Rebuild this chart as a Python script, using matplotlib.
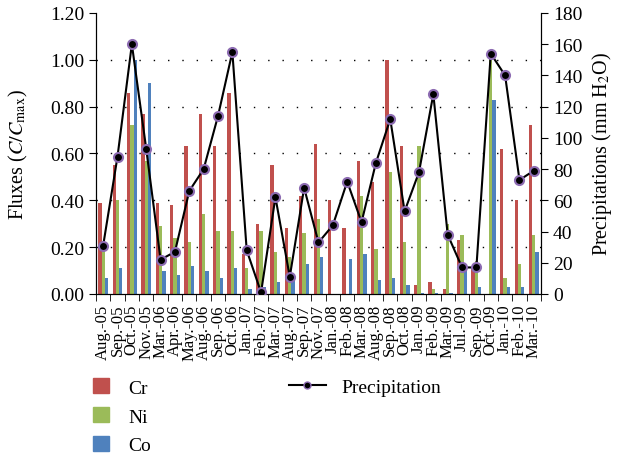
import numpy as np
import matplotlib.pyplot as plt
from matplotlib.patches import Patch
from matplotlib.lines import Line2D

plt.rcParams["font.family"] = "Liberation Serif"
plt.rcParams["mathtext.fontset"] = "stix"

months = ["Aug.-05", "Sep.-05", "Oct.-05", "Nov.-05", "Mar.-06", "Apr.-06", "May.-06",
          "Aug.-06", "Sep.-06", "Oct.-06", "Jan.-07", "Feb.-07", "Mar.-07", "Aug.-07",
          "Sep.-07", "Nov.-07", "Jan.-08", "Feb.-08", "Mar.-08", "Aug.-08", "Sep.-08",
          "Oct.-08", "Jan.-09", "Feb.-09", "Mar.-09", "Jul.-09", "Sep.-09", "Oct.-09",
          "Jan.-10", "Feb.-10", "Mar.-10"]

cr = [0.39, 0.55, 0.86, 0.77, 0.39, 0.38, 0.63, 0.77, 0.63, 0.86, 0.17, 0.30, 0.55, 0.28,
      0.42, 0.64, 0.40, 0.28, 0.57, 0.48, 1.00, 0.63, 0.04, 0.05, 0.02, 0.23, 0.11, 0.00,
      0.62, 0.40, 0.72]
ni = [0.20, 0.40, 0.72, 0.57, 0.29, 0.24, 0.22, 0.34, 0.27, 0.27, 0.11, 0.27, 0.18, 0.16,
      0.26, 0.32, 0.00, 0.00, 0.42, 0.19, 0.52, 0.22, 0.63, 0.02, 0.30, 0.25, 0.14, 1.02,
      0.07, 0.13, 0.25]
co = [0.07, 0.11, 1.00, 0.90, 0.10, 0.08, 0.12, 0.10, 0.07, 0.11, 0.02, 0.03, 0.05, 0.06,
      0.13, 0.16, 0.00, 0.15, 0.17, 0.06, 0.07, 0.04, 0.005, 0.005, 0.005, 0.11, 0.03, 0.83,
      0.03, 0.03, 0.18]
precip = [31, 88, 160, 93, 22, 27, 66, 80, 114, 155, 28, 1, 62, 11, 68, 33, 44, 72, 46,
          84, 112, 53, 78, 128, 38, 17, 17, 154, 140, 73, 79]

x = np.arange(len(months))
w = 0.23

fig = plt.figure(figsize=(6.18, 4.56), dpi=100)
ax = fig.add_axes([0.1553, 0.3531, 0.7201, 0.6162])

ax.bar(x - w, cr, w, color="#c0504d", zorder=2)
ax.bar(x, ni, w, color="#9bbb59", zorder=2)
ax.bar(x + w, co, w, color="#4f81bd", zorder=2)

ax.set_xlim(-0.5, len(months) - 0.5)
ax.set_ylim(0, 1.2)
ax.set_yticks(np.arange(0, 1.21, 0.2))
ax.set_yticklabels([f"{v:.2f}" for v in np.arange(0, 1.21, 0.2)])
for v in np.arange(0.2, 1.01, 0.2):
    ax.axhline(v, color="black", lw=1, linestyle=(0, (1, 9.3)), zorder=1)

ax.set_xticks(x)
ax.set_xticklabels(months, rotation=90)
ax.set_xticks(np.arange(-0.5, len(months), 1), minor=True)
ax.tick_params(axis="x", which="major", length=0, pad=7, labelsize=12)
ax.tick_params(axis="x", which="minor", length=5, direction="out")
ax.tick_params(axis="y", length=5, direction="out", labelsize=14)
ax.spines["top"].set_visible(False)
ax.set_ylabel(r"Fluxes ($C/C_{\mathrm{max}}$)", fontsize=14.5)
ax.yaxis.set_label_coords(-0.148, 0.5)

ax2 = ax.twinx()
ax2.plot(x, precip, color="black", lw=1.5, marker="o", markersize=6.5,
         markerfacecolor="black", markeredgecolor="#8c6bb1", markeredgewidth=1.5, zorder=3)
ax2.set_ylim(0, 180)
ax2.set_yticks(np.arange(0, 181, 20))
ax2.tick_params(axis="y", length=5, direction="out", labelsize=14)
ax2.spines["top"].set_visible(False)
ax2.set_ylabel(r"Precipitations (mm H$_2$O)", fontsize=14.5)
ax2.yaxis.set_label_coords(1.11, 0.5)

handles = [Patch(color="#c0504d", label="Cr"),
           Patch(color="#9bbb59", label="Ni"),
           Patch(color="#4f81bd", label="Co")]
fig.legend(handles=handles, loc="upper left", bbox_to_anchor=(0.138, 0.185),
           frameon=False, fontsize=14, handlelength=0.8, handleheight=0.8,
           labelspacing=0.55, handletextpad=1.0, borderaxespad=0)
line_h = [Line2D([0], [0], color="black", lw=1.5, marker="o", markersize=5,
                 markerfacecolor="black", markeredgecolor="#8c6bb1", label="Precipitation")]
fig.legend(handles=line_h, loc="upper left", bbox_to_anchor=(0.455, 0.185),
           frameon=False, fontsize=14, handlelength=1.9, handletextpad=0.8, borderaxespad=0)

fig.savefig("out.png", dpi=100)
